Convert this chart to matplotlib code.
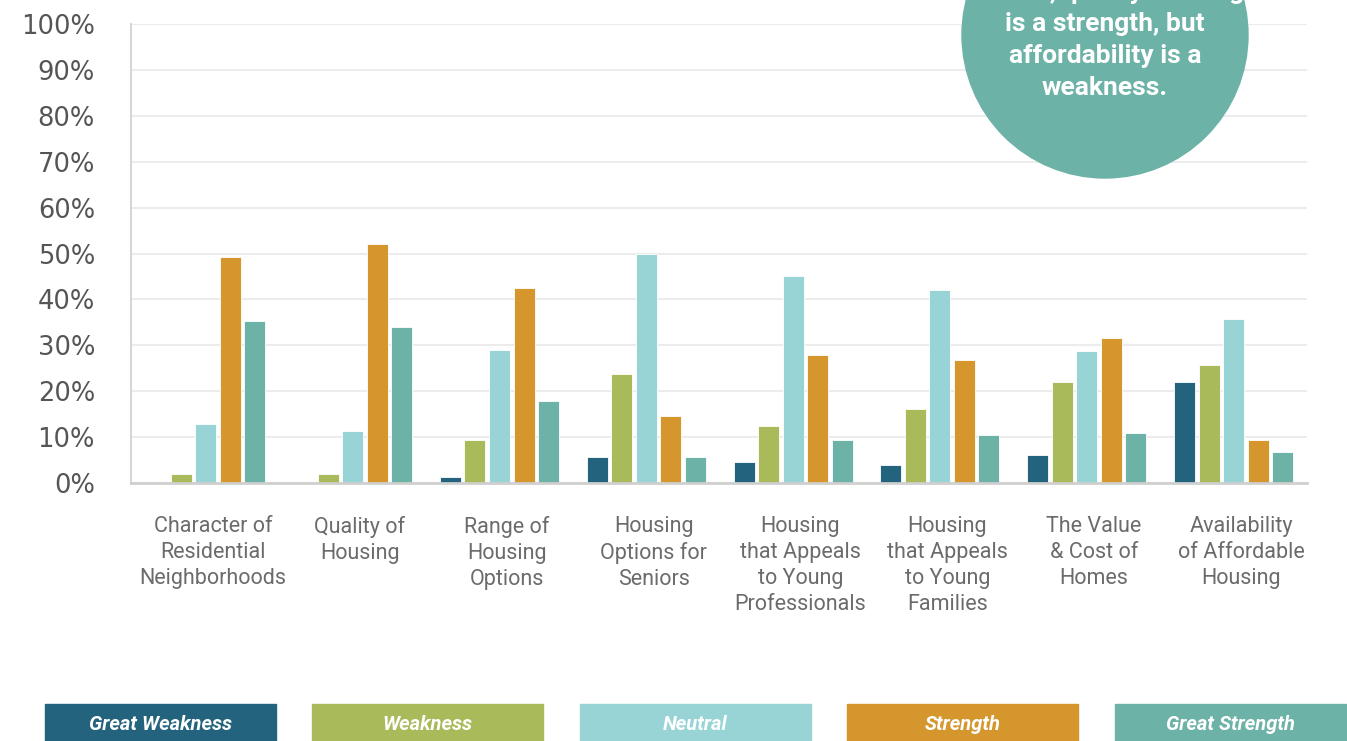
import numpy as np
import matplotlib
matplotlib.use('Agg')
import matplotlib.pyplot as plt
from matplotlib.patches import Circle, Rectangle

plt.rcParams['font.family'] = ['Roboto', 'DejaVu Sans']

########################################

# Data (percent of responses)

categories = ['Character of\nResidential\nNeighborhoods', 'Quality of\nHousing',
              'Range of\nHousing\nOptions', 'Housing\nOptions for\nSeniors',
              'Housing\nthat Appeals\nto Young\nProfessionals', 'Housing\nthat Appeals\nto Young\nFamilies',
              'The Value\n& Cost of\nHomes', 'Availability\nof Affordable\nHousing']

series_names = ['Great Weakness', 'Weakness', 'Neutral', 'Strength', 'Great Strength']

great_weakness = [0, 0, 1.2, 5.7, 4.6, 3.9, 6.1, 22]
weakness = [2, 2, 9.4, 23.7, 12.5, 16.2, 21.9, 25.7]
neutral = [12.9, 11.4, 29, 50, 45.2, 42.1, 28.7, 35.7]
strength = [49.3, 52, 42.5, 14.7, 27.9, 26.8, 31.6, 9.4]
great_strength = [35.3, 34, 17.8, 5.7, 9.4, 10.5, 11, 6.8]

yticks = list(range(0, 101, 10))
ytick_labels = ['%d%%' % v for v in yticks]

# first line is cut off by the top edge in the original too
callout = "Overall, quality housing\nis a strength, but\naffordability is a\nweakness."

########################################

colors = ['#23637d', '#a8ba59', '#98d4d6', '#d4962d', '#6cb2a7']
all_series = [great_weakness, weakness, neutral, strength, great_strength]

W, H = 1347, 741
fig = plt.figure(figsize=(W / 100, H / 100), dpi=100)
ax = fig.add_axes([131 / W, 1 - 483 / H, (1307 - 131) / W, (483 - 24) / H])

x = np.arange(len(categories))
bar_w = 0.143
step = 0.167
for i, (vals, col) in enumerate(zip(all_series, colors)):
    ax.bar(x + (i - 2) * step, vals, bar_w, color=col, edgecolor='white',
           linewidth=0.6, zorder=3)

ax.set_xlim(-0.51, 7.5)
ax.set_ylim(0, 100)
ax.set_yticks(yticks)
ax.set_yticklabels(ytick_labels, fontsize=18.5, color='#555555', family='DejaVu Sans')
ax.tick_params(axis='y', length=0, pad=26)

ax.set_xticks(x + 0.05)
ax.set_xticklabels(categories, fontsize=15.5, color='#6b6b6b', linespacing=1.3, va='top')
ax.tick_params(axis='x', length=0, pad=24)

ax.grid(axis='y', color='#ececec', linewidth=1.5, zorder=0)
for s in ['top', 'right']:
    ax.spines[s].set_visible(False)
ax.spines['left'].set_color('#d6d6d6')
ax.spines['left'].set_linewidth(1.5)
ax.spines['bottom'].set_color('#cfcfcf')
ax.spines['bottom'].set_linewidth(2)
ax.spines['bottom'].set_zorder(4)

# overlay in pixel coordinates for the callout and the legend boxes
ov = fig.add_axes([0, 0, 1, 1])
ov.set_xlim(0, W)
ov.set_ylim(H, 0)
ov.axis('off')
ov.patch.set_visible(False)

ov.add_patch(Circle((1105, 35), 143, color='#6cb2a7', zorder=2))
ov.text(1105, 40, callout, ha='center', va='center', color='white',
        fontsize=19, fontweight='bold', linespacing=1.42, zorder=3)

box_left = [45, 312, 580, 847, 1115]
for left, name, col in zip(box_left, series_names, colors):
    ov.add_patch(Rectangle((left, 704), 231, 45, color=col, zorder=2))
    ov.text(left + 115.5, 725, name, ha='center', va='center', color='white',
            fontsize=14.5, fontweight='bold', style='italic', zorder=3)

fig.savefig('out.png', dpi=100)
